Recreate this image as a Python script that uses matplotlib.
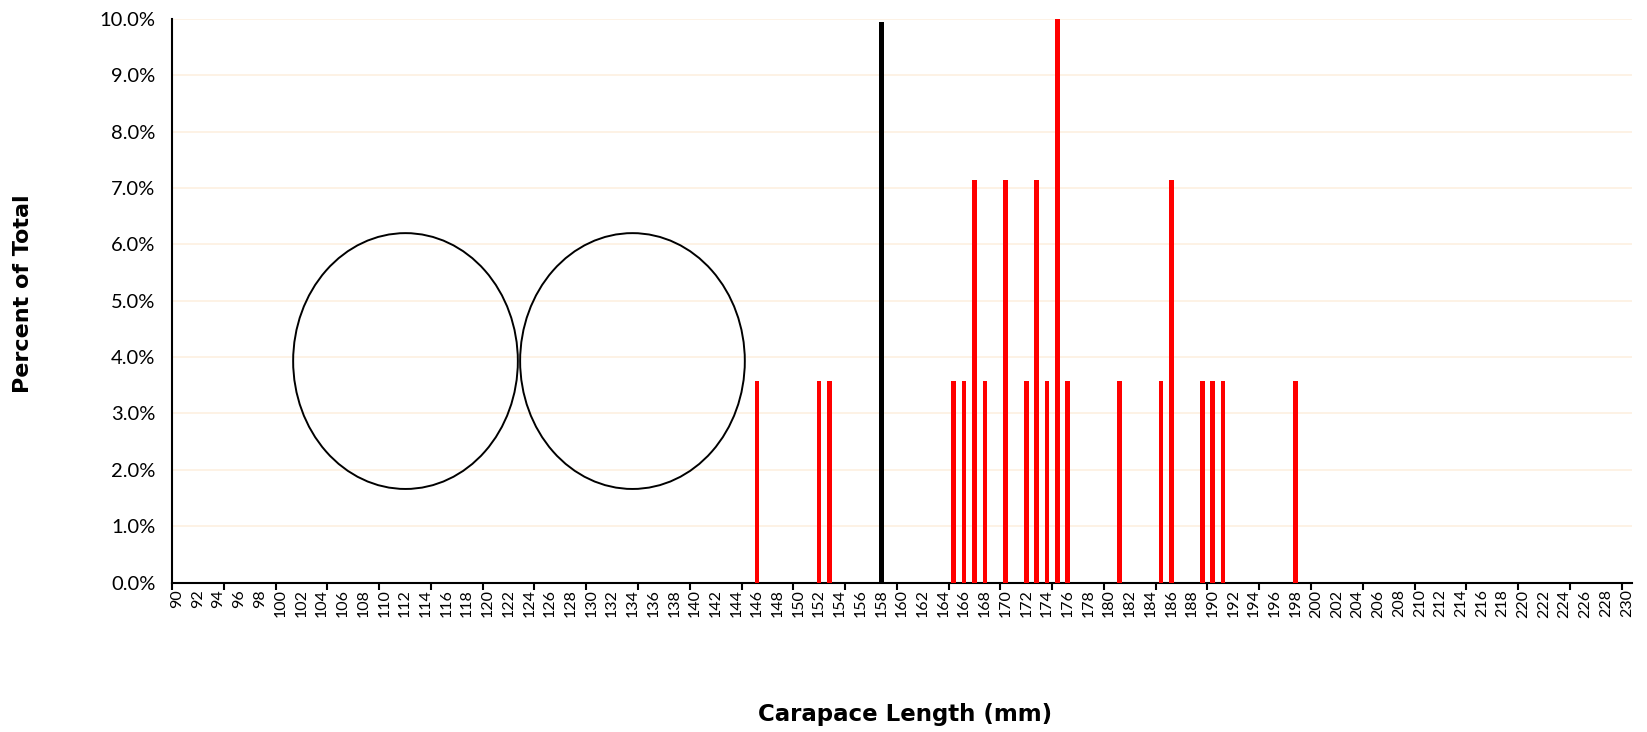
import numpy as np
import matplotlib
matplotlib.use("Agg")
import matplotlib.pyplot as plt
from matplotlib.patches import Ellipse
from matplotlib.ticker import PercentFormatter, MultipleLocator, FixedLocator

# carapace length bins (mm) and number of animals in each
lengths = [146, 152, 153, 165, 166, 167, 168, 170, 172, 173, 174, 175, 176,
           181, 185, 186, 189, 190, 191, 198]
counts = [1, 1, 1, 1, 1, 2, 1, 2, 1, 2, 1, 3, 1, 1, 1, 2, 1, 1, 1, 1]
total = 28

# reference line (legal size) and its height on the chart
ref_length = 158
ref_height = 0.0995

# the two circles drawn on the chart (centre x, centre y, width, height)
circles = [(112.05, 0.0393, 21.7, 0.0454),
           (133.97, 0.0393, 21.7, 0.0454)]

x_min, x_max = 90, 230
pct = np.array(counts) / total

fig = plt.figure(figsize=(16.47, 7.32), dpi=100)
ax = fig.add_axes([172 / 1647, 1 - 582.5 / 732, 1460 / 1647, 563.5 / 732])

ax.bar(lengths, pct, width=0.45, color="#ff0000", zorder=3)
ax.bar([ref_length], [ref_height], width=0.5, color="black", zorder=4)

for cx, cy, w, h in circles:
    ax.add_patch(Ellipse((cx, cy), w, h, fill=False, edgecolor="black",
                         linewidth=1.4, zorder=5))

ax.set_xlim(x_min - 0.5, x_max + 0.5)
ax.set_ylim(0, 0.10)

# labels every 2 mm, tick marks every 5 bins
ax.set_xticks(np.arange(x_min, x_max + 1, 2))
ax.set_xticklabels([str(v) for v in range(x_min, x_max + 1, 2)],
                   rotation=90, fontsize=11.5, family="Lato")
ax.tick_params(axis="x", which="major", length=0, pad=5)
ax.xaxis.set_minor_locator(FixedLocator(np.arange(x_min - 0.5, x_max + 1, 5)))
ax.tick_params(axis="x", which="minor", length=5, width=1.5, direction="out")

ax.yaxis.set_major_locator(MultipleLocator(0.01))
ax.yaxis.set_major_formatter(PercentFormatter(1.0, decimals=1))
ax.tick_params(axis="y", length=0, pad=12, labelsize=14.5)
for lbl in ax.get_yticklabels():
    lbl.set_family("Lato")

ax.grid(axis="y", color="#fdf0e0", linewidth=1.2, zorder=0)
ax.set_axisbelow(True)

for s in ["top", "right"]:
    ax.spines[s].set_visible(False)
ax.spines["left"].set_linewidth(1.5)
ax.spines["bottom"].set_linewidth(1.5)

fig.text(905 / 1647, 1 - 715 / 732, "Carapace Length (mm)", ha="center",
         va="center", fontsize=16.5, fontweight="bold")
fig.text(23.5 / 1647, 1 - 294 / 732, "Percent of Total", ha="center",
         va="center", rotation=90, fontsize=16, fontweight="bold")

fig.savefig("out.png", dpi=100)
